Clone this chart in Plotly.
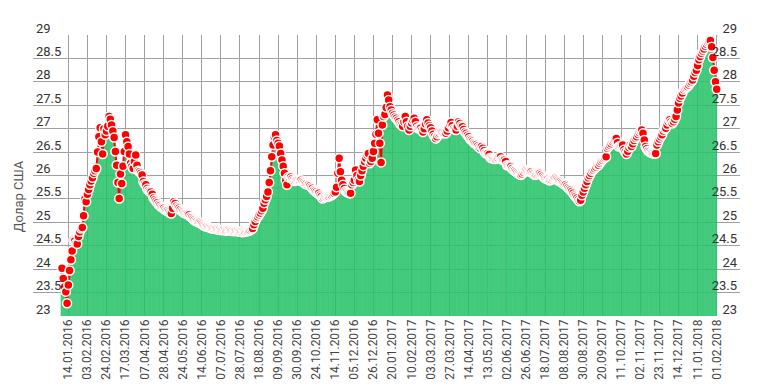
import plotly.graph_objects as go

# Daily USD rate (trading days)
rate = [
    24.02, 23.80, 23.62, 23.52, 23.27, 23.66, 23.97, 24.20, 24.39, 24.62, 24.60, 24.55, 24.54, 24.70, 24.80,
    24.87, 24.89, 25.14, 25.50, 25.44, 25.60, 25.70, 25.80, 25.88, 25.95, 26.05, 26.10, 26.15, 26.50, 26.83,
    27.02, 26.72, 26.46, 27.00, 26.87, 26.95, 27.05, 27.26, 27.20, 27.08, 26.95, 26.81, 26.51, 26.22, 25.85,
    25.51, 26.03, 25.83, 26.20, 26.51, 26.87, 26.72, 26.62, 26.46, 26.26, 26.20, 26.15, 26.30, 26.44, 26.22,
    26.10, 26.08, 26.05, 26.01, 25.87, 25.82, 25.80, 25.72, 25.68, 25.66, 25.65, 25.60, 25.52, 25.48, 25.45,
    25.42, 25.38, 25.36, 25.33, 25.31, 25.30, 25.27, 25.25, 25.24, 25.22, 25.20, 25.19, 25.30, 25.44, 25.40,
    25.35, 25.32, 25.30, 25.27, 25.24, 25.22, 25.20, 25.19, 25.18, 25.17, 25.16, 25.12, 25.10, 25.07, 25.05,
    25.03, 25.02, 25.00, 25.00, 24.98, 24.96, 24.94, 24.92, 24.91, 24.91, 24.90, 24.89, 24.88, 24.87, 24.87,
    24.86, 24.86, 24.85, 24.84, 24.84, 24.83, 24.84, 24.84, 24.83, 24.82, 24.83, 24.84, 24.83, 24.82, 24.82,
    24.81, 24.82, 24.82, 24.81, 24.80, 24.80, 24.80, 24.79, 24.80, 24.80, 24.81, 24.81, 24.82, 24.83, 24.85,
    24.87, 24.95, 25.02, 25.09, 25.12, 25.16, 25.20, 25.25, 25.30, 25.41, 25.48, 25.55, 25.65, 25.85, 26.10,
    26.40, 26.65, 26.83, 26.87, 26.75, 26.69, 26.63, 26.47, 26.33, 26.20, 26.05, 25.90, 25.80, 25.97, 25.95,
    25.97, 25.93, 25.90, 25.88, 25.90, 25.91, 25.90, 25.89, 25.90, 25.87, 25.85, 25.83, 25.82, 25.80, 25.80,
    25.78, 25.75, 25.73, 25.69, 25.67, 25.65, 25.62, 25.62, 25.58, 25.55, 25.51, 25.53, 25.55, 25.54, 25.55,
    25.55, 25.57, 25.58, 25.60, 25.62, 25.65, 25.75, 26.05, 26.37, 26.08, 25.90, 25.80, 25.72, 25.67, 25.65,
    25.63, 25.62, 25.62, 25.80, 25.85, 25.90, 26.12, 26.00, 25.90, 25.87, 26.00, 26.10, 26.20, 26.30, 26.37,
    26.44, 26.47, 26.26, 26.30, 26.37, 26.51, 26.69, 26.88, 27.19, 26.90, 26.69, 26.28, 27.08, 27.26, 27.30,
    27.45, 27.72, 27.61, 27.47, 27.40, 27.33, 27.29, 27.25, 27.22, 27.18, 27.15, 27.10, 27.08, 27.05, 27.15,
    27.26, 27.15, 27.05, 26.97, 27.05, 27.12, 27.18, 27.22, 27.15, 27.05, 27.01, 27.01, 27.01, 26.96, 26.93,
    27.00, 27.10, 27.19, 27.12, 27.06, 27.02, 26.95, 26.88, 26.83, 26.79, 26.83, 26.88, 26.90, 26.93, 26.92,
    26.90, 26.90, 26.90, 26.95, 27.02, 27.10, 27.13, 27.06, 27.00, 26.98, 26.97, 27.05, 27.15, 27.11, 27.06,
    27.04, 26.98, 26.93, 26.90, 26.86, 26.83, 26.78, 26.76, 26.73, 26.70, 26.68, 26.66, 26.63, 26.60, 26.58,
    26.62, 26.58, 26.53, 26.48, 26.47, 26.47, 26.45, 26.38, 26.37, 26.36, 26.35, 26.35, 26.37, 26.38, 26.40,
    26.40, 26.34, 26.33, 26.33, 26.30, 26.22, 26.21, 26.20, 26.19, 26.15, 26.12, 26.10, 26.08, 26.06, 26.04,
    26.02, 26.01, 26.03, 26.07, 26.10, 26.12, 26.10, 26.09, 26.08, 26.08, 26.05, 26.03, 26.01, 26.02, 26.04,
    26.05, 26.05, 26.02, 25.99, 25.96, 25.94, 25.93, 25.92, 25.90, 25.90, 25.91, 25.93, 25.94, 25.94, 25.92,
    25.90, 25.88, 25.87, 25.85, 25.83, 25.81, 25.80, 25.77, 25.74, 25.71, 25.69, 25.66, 25.62, 25.58, 25.55,
    25.52, 25.48, 25.45, 25.47, 25.58, 25.65, 25.73, 25.80, 25.87, 25.95, 26.00, 26.05, 26.10, 26.12, 26.15,
    26.18, 26.22, 26.22, 26.26, 26.30, 26.33, 26.36, 26.38, 26.40, 26.58, 26.62, 26.65, 26.68, 26.72, 26.75,
    26.77, 26.79, 26.70, 26.62, 26.63, 26.64, 26.65, 26.55, 26.50, 26.46, 26.52, 26.60, 26.65, 26.62, 26.68,
    26.75, 26.80, 26.83, 26.88, 26.92, 26.95, 26.97, 26.90, 26.76, 26.62, 26.57, 26.53, 26.51, 26.49, 26.48,
    26.47, 26.47, 26.47, 26.65, 26.72, 26.78, 26.83, 26.87, 26.95, 27.00, 27.01, 27.08, 27.15, 27.19, 27.15,
    27.11, 27.15, 27.20, 27.26, 27.40, 27.55, 27.65, 27.70, 27.76, 27.83, 27.86, 27.88, 27.90, 27.93, 27.97,
    28.00, 28.04, 28.12, 28.20, 28.25, 28.35, 28.47, 28.54, 28.61, 28.66, 28.70, 28.76, 28.80, 28.84, 28.86,
    28.88, 28.75, 28.52, 28.25, 28.00, 27.84,
]
day_index = list(range(len(rate)))

# Tick labels shown every 15th trading day
tick_labels = [
    "14.01.2016", "03.02.2016", "24.02.2016", "17.03.2016", "07.04.2016", "28.04.2016",
    "24.05.2016", "14.06.2016", "07.07.2016", "28.07.2016", "18.08.2016", "09.09.2016",
    "30.09.2016", "24.10.2016", "14.11.2016", "05.12.2016", "26.12.2016", "20.01.2017",
    "10.02.2017", "03.03.2017", "27.03.2017", "14.04.2017", "13.05.2017", "02.06.2017",
    "26.06.2017", "18.07.2017", "08.08.2017", "30.08.2017", "20.09.2017", "11.10.2017",
    "02.11.2017", "23.11.2017", "14.12.2017", "11.01.2018", "01.02.2018",
]
tick_pos = [5 + 15 * k for k in range(len(tick_labels))]
y_ticks = [23 + 0.5 * k for k in range(13)]
y_ticktext = [("%g" % v) for v in y_ticks]

FONT = "Roboto"
GRID = "#a0a0a0"

fig = go.Figure()
fig.add_trace(go.Bar(
    x=day_index, y=rate,
    marker=dict(color="#2ecc71", line=dict(color="#27b865", width=0.3)),
    opacity=0.93, showlegend=False, hoverinfo="skip",
))
fig.add_trace(go.Scatter(
    x=day_index, y=rate, mode="lines+markers",
    line=dict(color="#ff0000", width=2),
    marker=dict(color="#ff0000", size=9, line=dict(color="white", width=1.5)),
    showlegend=False,
))
fig.add_trace(go.Scatter(x=[day_index[0]], y=[rate[0]], yaxis="y2", mode="markers",
                         marker=dict(opacity=0), showlegend=False, hoverinfo="skip"))

fig.update_layout(
    width=751, height=383,
    margin=dict(l=25, r=19, t=27, b=75),
    paper_bgcolor="white", plot_bgcolor="white",
    bargap=0,
    font=dict(family=FONT, color="#444"),
    xaxis=dict(
        range=[-22.8, 533.3], tickmode="array", tickvals=tick_pos, ticktext=tick_labels,
        tickangle=-90, tickfont=dict(size=12, color="#444", family=FONT),
        showgrid=True, gridcolor=GRID, gridwidth=1, zeroline=False, showline=False,
        ticks="",
    ),
    yaxis=dict(
        range=[23, 29], tickmode="array", tickvals=y_ticks, ticktext=y_ticktext,
        ticklabelposition="inside", ticklabelshift=-7, ticklabeloverflow="allow",
        tickfont=dict(size=13, color="#333", family=FONT),
        showgrid=True, gridcolor=GRID, gridwidth=1, zeroline=False, showline=False, ticks="",
    ),
    yaxis2=dict(
        range=[23, 29], overlaying="y", side="right", tickmode="array",
        tickvals=y_ticks, ticktext=y_ticktext,
        ticklabelposition="inside", ticklabelshift=-7, ticklabeloverflow="allow",
        tickfont=dict(size=13, color="#333", family=FONT),
        showgrid=False, zeroline=False, showline=False, ticks="",
    ),
    annotations=[dict(
        text="Долар США", textangle=-90, xref="paper", yref="paper",
        x=-0.021, y=0.427, xanchor="center", yanchor="middle", showarrow=False,
        font=dict(size=13, color="#555", family=FONT),
    )],
)

fig.write_html("out.html")
